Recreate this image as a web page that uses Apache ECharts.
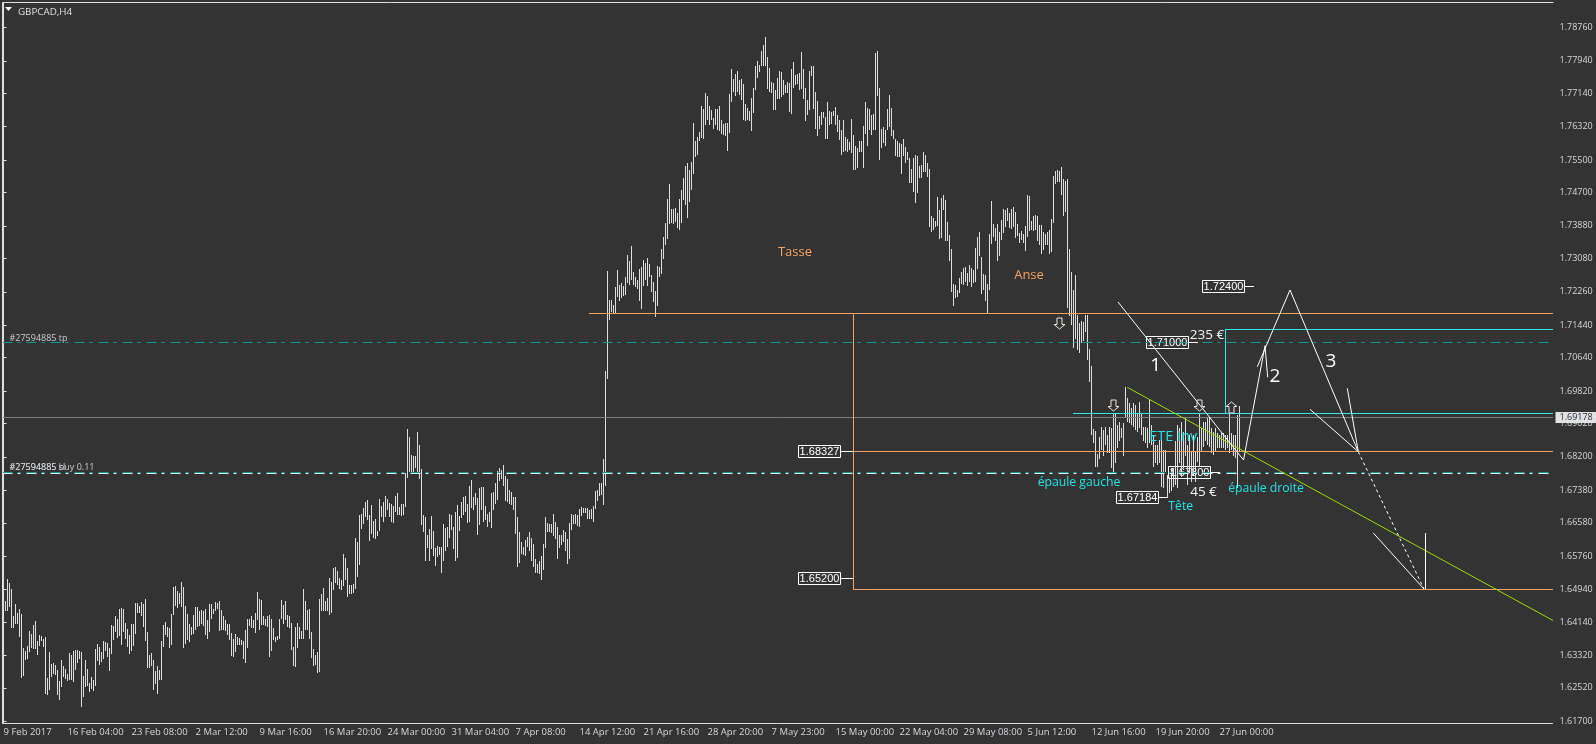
<!DOCTYPE html>
<html><head><meta charset="utf-8">
<style>html,body{margin:0;padding:0;background:#333333;overflow:hidden}#c{width:1596px;height:744px}</style>
<script src="https://cdn.jsdelivr.net/npm/echarts@6/dist/echarts.min.js"></script>
</head><body><div id="c"></div>
<script>
// Bar ranges: flat high,low pairs in units of 0.0001
const barsFebMar=[16483,16445,16466,16442,16519,16442,16509,16451,16495,16400,16428,16400,16458,16409,16437,16410,16446,16378,16433,16277,16351,16282,16342,16320,16355,16323,16392,16341,16384,16351,16406,16347,16416,16347,16367,16333,16382,16355,16379,16368,16372,16353,16377,16237,16275,16234,16339,16246,16310,16279,16314,16286,16307,16283,16296,16235,16269,16223,16320,16253,16306,16278,16298,16273,16287,16269,16337,16271,16332,16271,16342,16267,16344,16296,16344,16314,16342,16324,16340,16205,16281,16230,16320,16255,16298,16256,16263,16242,16278,16250,16271,16245,16347,16256,16360,16319,16353,16308,16340,16316,16367,16323,16364,16342,16362,16328,16349,16294,16406,16335,16404,16369,16428,16390,16421,16375,16446,16379,16448,16358,16446,16390,16411,16373,16396,16353,16382,16335,16409,16343,16409,16355,16460,16385,16460,16437,16454,16435,16463,16429,16458,16402,16470,16367,16389,16301,16332,16301,16337,16305,16320,16247,16293,16261,16306,16237,16296,16271,16367,16271,16406,16353,16413,16382,16402,16378,16399,16351,16433,16357,16500,16431,16502,16453,16490,16448,16485,16458,16512,16451,16500,16351,16453,16361,16433,16369,16409,16364,16401,16382,16431,16384,16451,16394,16451,16402,16441,16404,16443,16409,16441,16404,16446,16382,16419,16372,16458,16389,16458,16421,16445,16433,16463,16441,16460,16446,16465,16392,16443,16394,16428,16394,16419,16392,16409,16382,16409,16369,16387,16330,16372,16328,16384,16340,16377,16357,16374,16357,16369,16357,16367,16323,16394,16313,16421,16351,16421,16404,16428,16400,16419,16398,16435,16387,16487,16419,16470,16394,16468,16406,16428,16406,16421,16404,16428,16402,16431,16328,16421,16342,16399,16369,16377,16364,16379,16369,16421,16372,16468,16421,16455,16410,16465,16419,16431,16402,16428,16398,16411,16345,16352,16305,16401,16304,16411,16350,16401,16373,16392,16371,16495,16371,16465,16394,16443,16394,16446,16371,16389,16325,16347,16305,16332,16308,16340,16288,16470,16292,16483,16441,16497,16441,16465,16442,16473,16441,16522,16431,16512,16435,16547,16492,16549,16509,16539,16505,16522,16495,16517,16492,16581,16502,16571,16517,16547,16476,16505,16483,16505,16483,16507,16486,16620,16496,16610,16524,16677,16554,16679,16642,16694,16655,16709,16673,16714,16665,16677,16614,16701,16630,16662,16620,16667,16618,16638,16625,16716,16638,16699,16673,16709,16660,16724,16673,16716,16689,16706,16672,16704,16660,16699,16657,16724,16684,16731,16677,16697,16677];
const barsMarApr=[16704,16674,16704,16676,16781,16697,16888,16768,16870,16784,16824,16783,16822,16784,16822,16792,16881,16781,16849,16765,16790,16652,16677,16636,16672,16564,16628,16595,16642,16564,16674,16593,16638,16576,16595,16551,16601,16574,16599,16578,16598,16534,16655,16564,16645,16589,16647,16599,16679,16621,16677,16640,16647,16593,16684,16564,16701,16571,16674,16638,16709,16670,16721,16677,16724,16684,16704,16658,16748,16660,16763,16694,16721,16689,16731,16701,16719,16628,16743,16652,16746,16689,16746,16660,16699,16666,16679,16647,16684,16660,16730,16645,16733,16689,16756,16704,16785,16714,16793,16761,16788,16765,16800,16748,16773,16711,16765,16709,16738,16704,16733,16701,16721,16689,16721,16630,16672,16549,16635,16559,16610,16581,16599,16578,16615,16576,16623,16599,16635,16588,16620,16564,16606,16549,16569,16534,16556,16534,16564,16533,16576,16516,16606,16542,16672,16596,16657,16635,16655,16635,16655,16633,16679,16625,16660,16618,16647,16569,16628,16596,16628,16603,16640,16611,16635,16589,16618,16556,16657,16569,16679,16640,16677,16655,16679,16655,16677,16650,16692,16648,16697,16674,16694,16681,16694,16683,16694,16667,16689,16667,16692,16667,16699,16660,16736,16692,16738,16711,16756,16724,16756,16726,16815,16701,17031,16748,17277,17011];
const barsAprMay=[17206,17157,17206,17176,17193,17173,17239,17173,17280,17214,17243,17204,17247,17210,17240,17216,17263,17218,17316,17247,17302,17243,17339,17255,17275,17243,17263,17237,17255,17234,17282,17204,17287,17184,17303,17240,17298,17255,17309,17240,17294,17263,17267,17225,17251,17202,17229,17165,17289,17191,17286,17263,17331,17270,17361,17306,17396,17341,17454,17355,17491,17393,17430,17396,17430,17393,17433,17397,17419,17382,17454,17378,17476,17394,17506,17452,17535,17439,17542,17408,17526,17448,17545,17476,17641,17516,17597,17558,17607,17562,17619,17598,17683,17604,17676,17603,17715,17636,17708,17649,17683,17636,17673,17649,17654,17626,17676,17636,17676,17624,17683,17622,17649,17614,17639,17612,17640,17608,17642,17572,17713,17616,17774,17694,17749,17717,17762,17708,17769,17717,17747,17710,17749,17698,17737,17649,17688,17646,17678,17649,17671,17646,17703,17622,17727,17665,17781,17722,17794,17751,17784,17766,17818,17781,17833,17781,17853,17781,17804,17725,17777,17717,17742,17714,17739,17673,17722,17673,17752,17700,17769,17700,17766,17706,17747,17710,17735,17714,17742,17714,17739,17668,17774,17663,17791,17726,17759,17735,17762,17737,17764,17722,17816,17725,17774,17700,17727,17647,17698,17661,17769,17673,17781,17757,17781,17676,17717,17626,17695,17609,17658,17626,17668,17636,17668,17653,17656,17602,17693,17602,17671,17636,17668,17639,17671,17658,17681,17636,17661,17620,17649,17599,17624,17562,17649,17571,17607,17572,17602,17569,17594,17575,17651,17567,17612,17526,17585,17526,17580,17530,17597,17570,17597,17570,17634,17531,17693,17614,17678,17585,17676,17624,17661,17612,17663,17624,17813,17624,17818,17708,17727,17550,17626,17580,17631,17591,17624,17585,17676,17624,17710,17632,17678,17608,17624,17602,17602,17560,17597,17558,17592,17557,17590,17516,17602,17560,17583,17542,17570,17550,17554,17493,17527,17493,17554,17472,17562,17445,17560,17470,17535,17505,17538,17505,17570,17521,17562,17521,17542,17508,17528,17385];
const barsMayJun=[17413,17372,17407,17378,17401,17385,17459,17388,17426,17357,17457,17359,17464,17427,17452,17352,17398,17352,17366,17302,17331,17226,17245,17192,17243,17211,17231,17214,17260,17222,17275,17245,17285,17243,17287,17251,17272,17240,17292,17251,17285,17239,17280,17247,17334,17249,17361,17282,17373,17313,17311,17221,17270,17231,17267,17204,17245,17173,17368,17231,17450,17344,17393,17360,17383,17351,17393,17302,17373,17314,17403,17354,17430,17370,17427,17385,17432,17400,17419,17382,17430,17381,17435,17386,17422,17358,17393,17363,17370,17347,17376,17354,17368,17345,17388,17327,17464,17362,17462,17376,17400,17378,17413,17376,17415,17378,17413,17351,17390,17341,17390,17319,17373,17329,17368,17341,17374,17341,17378,17319,17405,17325,17511,17395,17523,17491,17526,17496,17523,17495,17533,17464,17504,17413,17499,17423,17504,17186,17331,17167,17275,17144,17231,17088,17267,17110,17169,17083,17149,17076,17154,17099,17152,17106,17169,17127,17169,17058,17085,17004,17044,16874,16889,16853,16884,16794,16827,16796,16869,16816];
const barsJun=[16894,16837,16886,16821,16894,16849,16874,16829,16894,16829,16890,16792,16927,16782,16927,16804,16899,16841,16907,16858,16890,16866,16903,16821,16993,16915,16964,16907,16952,16903,16940,16899,16952,16894,16948,16886,16927,16882,16956,16890,16927,16874,16894,16858,16894,16853,16890,16841,16960,16853,16899,16849,16874,16796,16849,16804,16849,16800,16862,16804,16862,16747,16837,16743,16837,16784,16776,16718,16771,16730,16792,16735,16792,16747,16858,16751,16899,16743,16890,16804,16907,16771,16882,16792,16915,16821,16849,16751,16874,16780,16833,16759,16874,16776,16833,16759,16870,16808,16927,16796,16890,16833,16907,16845,16907,16858,16915,16849,16915,16845,16890,16829,16882,16825,16890,16833,16878,16841,16874,16841,16878,16841,16878,16841,16874,16837,16874,16841,16927,16829,16878,16837,16874,16821,16874,16817,16923,16743,16944,16833];

const priceTicks=[1.7876,1.7794,1.7714,1.7632,1.755,1.747,1.7388,1.7308,1.7226,1.7144,1.7064,1.6982,1.6902,1.682,1.6738,1.6658,1.6576,1.6494,1.6414,1.6332,1.6252,1.617];
const timeLabels=['9 Feb 2017','16 Feb 04:00','23 Feb 08:00','2 Mar 12:00','9 Mar 16:00','16 Mar 20:00','24 Mar 00:00','31 Mar 04:00','7 Apr 08:00','14 Apr 12:00','21 Apr 16:00','28 Apr 20:00','7 May 23:00','15 May 00:00','22 May 04:00','29 May 08:00','5 Jun 12:00','12 Jun 16:00','19 Jun 20:00','27 Jun 00:00'];
const lastPrice=1.69178;

// Chart objects anchored in [bar index, price]
const orangeLines=[[292.75,1.71726,774.75,1.71726],[424.75,1.71726,424.75,1.64938],[424.75,1.68327,774.75,1.68327],[424.75,1.64938,774.75,1.64938]];
const cyanLines=[[534.75,1.69266,774.75,1.69266],[610.75,1.71332,610.75,1.69266],[610.75,1.71332,774.75,1.71332]];
const greenLines=[[561.9,1.69911,774.75,1.64176]];
const bidLine=[[-0.5,lastPrice,774.75,lastPrice]];
const tealDashLines=[[-0.5,1.7101,774.75,1.7101],[-0.5,1.67815,774.75,1.67815]];
const whiteDashLines=[[-0.5,1.67791,774.75,1.67791]];
const whiteLines=[[557.25,1.72009,620,1.68123],[620,1.68123,630.75,1.70934],[626.9,1.70417,643.25,1.72304],[643.25,1.72304,677.4,1.68327],[630.75,1.70934,632.1,1.70157],[671.9,1.69886,677.4,1.68327],[653.25,1.6937,677.4,1.68327],[684.9,1.66327,710.25,1.6495],[710.75,1.66327,710.75,1.6495],
 [620.25,1.724,625.25,1.724],[592.25,1.7101,597.25,1.7101],[577.25,1.6719,582.25,1.6719],[603.25,1.67815,608.25,1.67815],[418.25,1.68327,424.75,1.68327],[418.25,1.652,424.75,1.652]];
const whiteDottedLines=[[677.4,1.68327,710.25,1.6495]];
const priceBoxes=[['1.72400',620.25,1.724],['1.71000',592.25,1.7101],['1.67184',577.25,1.6719],['1.67800',603.25,1.67815],['1.68327',418.25,1.68327],['1.65200',418.25,1.652]];
const orangeTexts=[['Tasse',395.75,1.73238],['Anse',512.75,1.72656]];
const cyanTexts=[['épaule gauche',537.75,1.67565],['épaule droite',631.25,1.67434],['Tête',588.6,1.66967]];
const cyanBigTexts=[['ETE Inv',584.9,1.68696]];
const whiteTexts=[['45 €',600,1.67343],['235 €',601.75,1.71197]];
const numberTexts=[['1',576.1,1.70435],['2',635.75,1.70164],['3',663.75,1.70533]];
const tradeTexts=[['#27594885 tp',3,1.71125],['#27594885 sl',3,1.6793],['#27594885 buy 0.11',3,1.6793]];
const downArrows=[[527.75,1.71492],[554.75,1.69475],[597.75,1.69458]];
const upArrows=[[613.75,1.69426]];

const FONT='"Open Sans"';
const BG='#333333';
const allBars=[].concat(barsFebMar,barsMarApr,barsAprMay,barsMayJun,barsJun);
const barRows=[];
for(let i=0;i<allBars.length;i+=2)barRows.push([i/2,allBars[i]/10000,allBars[i+1]/10000]);
const SLOTS=775;
const categories=[];
for(let i=0;i<SLOTS;i++)categories.push(i%32===0&&timeLabels[i/32]?timeLabels[i/32]:'');

const crisp=v=>Math.round(v-0.5)+0.5;
function lineSeries(rows,color,dash,z){
  return {type:'custom',xAxisIndex:1,yAxisIndex:0,silent:true,z:z||4,encode:{x:[0,2],y:[1,3]},data:rows,clip:false,
    renderItem:(p,api)=>{
      const a=api.coord([api.value(0),api.value(1)]),b=api.coord([api.value(2),api.value(3)]);
      let x1=a[0],y1=a[1],x2=b[0],y2=b[1];
      if(Math.abs(y1-y2)<0.01){y1=y2=crisp(y1);}
      if(Math.abs(x1-x2)<0.01){x1=x2=crisp(x1);}
      return {type:'line',shape:{x1,y1,x2,y2},style:{stroke:color,lineWidth:1,lineDash:dash||null}};
    }};
}
function textSeries(rows,color,size,align){
  return {type:'custom',xAxisIndex:1,yAxisIndex:0,silent:true,z:6,encode:{x:0,y:1},clip:false,data:rows.map(r=>[r[1],r[2]]),
    renderItem:(p,api)=>{
      const c=api.coord([api.value(0),api.value(1)]);
      return {type:'text',x:c[0],y:c[1],style:{text:rows[p.dataIndex][0],fill:color,font:size+'px '+FONT,align:align||'center',verticalAlign:'middle'}};
    }};
}
function arrowSeries(rows,dir){
  const pts=[[-2.5,-5.5],[2.5,-5.5],[2.5,1],[5.5,1],[0,5.5],[-5.5,1],[-2.5,1]];
  return {type:'custom',xAxisIndex:1,yAxisIndex:0,silent:true,z:5,encode:{x:0,y:1},clip:false,data:rows,
    renderItem:(p,api)=>{
      const c=api.coord([api.value(0),api.value(1)]);
      return {type:'polygon',shape:{points:pts.map(q=>[crisp(c[0])+q[0],crisp(c[1])+q[1]*dir])},style:{fill:null,stroke:'#eee6dc',lineWidth:1}};
    }};
}
const boxSeries={type:'custom',xAxisIndex:1,yAxisIndex:0,silent:true,z:1,encode:{x:0,y:1},clip:false,data:priceBoxes.map(r=>[r[1],r[2]]),
  renderItem:(p,api)=>{
    const c=api.coord([api.value(0),api.value(1)]),xr=crisp(c[0]),yc=crisp(c[1]);
    return {type:'group',children:[
      {type:'rect',shape:{x:xr-42,y:yc-6,width:42,height:12},style:{fill:BG,stroke:'#ffffff',lineWidth:1}},
      {type:'text',x:xr-21,y:yc,style:{text:priceBoxes[p.dataIndex][0],fill:'#ffffff',font:'11px "Liberation Sans"',align:'center',verticalAlign:'middle'}}
    ]};
  }};
const tagSeries={type:'custom',xAxisIndex:1,yAxisIndex:0,silent:true,z:7,encode:{x:0,y:1},clip:false,data:[[774.75,lastPrice]],
  renderItem:(p,api)=>{
    const c=api.coord([api.value(0),api.value(1)]),x=crisp(c[0])+2,y=crisp(c[1]);
    return {type:'group',children:[
      {type:'rect',shape:{x:x,y:y-5.5,width:41,height:11},style:{fill:'#e2e2e2'}},
      {type:'text',x:x+4,y:y,style:{text:lastPrice.toFixed(5),fill:'#1c2a3a',font:'9px '+FONT,align:'left',verticalAlign:'middle'}}
    ]};
  }};
const barSeries={type:'custom',name:'GBPCAD,H4',xAxisIndex:0,yAxisIndex:0,z:2,silent:true,encode:{x:0,y:[1,2]},data:barRows,
  renderItem:(p,api)=>{
    const h=api.coord([api.value(0),api.value(1)]),l=api.coord([api.value(0),api.value(2)]);
    const x=crisp(h[0]);
    return {type:'line',shape:{x1:x,y1:Math.round(h[1]),x2:x,y2:Math.round(l[1])},style:{stroke:'#dedede',lineWidth:1}};
  }};

const option={
  animation:false,backgroundColor:BG,
  title:{text:'GBPCAD,H4',left:13,top:2,textStyle:{color:'#e0e0e0',fontFamily:FONT,fontSize:9.8,fontWeight:'normal'}},
  grid:{left:2.5,top:2.5,width:1550,height:721,containLabel:false},
  xAxis:[
    {type:'category',data:categories,position:'bottom',boundaryGap:true,
     axisLine:{lineStyle:{color:'#dedede'}},
     axisTick:{alignWithLabel:true,length:3,interval:(i,v)=>v!=='',lineStyle:{color:'#dedede'}},
     axisLabel:{interval:(i,v)=>v!=='',align:'left',margin:4,color:'#d4d8dc',fontFamily:FONT,fontSize:9.5},
     splitLine:{show:false}},
    {type:'value',min:-0.5,max:774.5,show:false,splitLine:{show:false}}
  ],
  yAxis:[{type:'value',position:'right',offset:1,min:1.61643,max:1.79375,
    axisLine:{show:true,lineStyle:{color:'#dedede'}},
    axisTick:{show:true,length:3,customValues:priceTicks,lineStyle:{color:'#dedede'}},
    axisLabel:{margin:6,color:'#d4d8dc',fontFamily:FONT,fontSize:9,customValues:priceTicks,formatter:v=>Number(v).toFixed(5)},
    splitLine:{show:false}}],
  graphic:[
    {type:'polyline',silent:true,z:10,shape:{points:[[2.5,723.5],[2.5,2.5],[1553.5,2.5]]},style:{stroke:'#dedede',fill:null,lineWidth:1}},
    {type:'polygon',silent:true,z:10,shape:{points:[[5,7],[12,7],[8.5,11]]},style:{fill:'#ffffff'}}
  ],
  series:[
    boxSeries,
    barSeries,
    lineSeries(bidLine,'#7d7d7d',null,3),
    lineSeries(tealDashLines,'#0e9a9a',[10,5,3,6],3),
    lineSeries(whiteDashLines,'#f0f0f0',[10,5,3,6],3),
    lineSeries(orangeLines,'#f4a460'),
    lineSeries(cyanLines,'#30e6e6'),
    lineSeries(greenLines,'#9ae000'),
    lineSeries(whiteLines,'#ffffff'),
    lineSeries(whiteDottedLines,'#ffffff',[3,3]),
    arrowSeries(downArrows,1),
    arrowSeries(upArrows,-1),
    textSeries(orangeTexts,'#f4a460',13),
    textSeries(cyanTexts,'#1fe6ea',12.2),
    textSeries(cyanBigTexts,'#1fe6ea',14.5),
    textSeries(whiteTexts,'#f4f4f4',13.5),
    textSeries(numberTexts,'#ffffff',19),
    textSeries(tradeTexts,'#c8ccd0',9,'left'),
    tagSeries
  ]
};
echarts.init(document.getElementById('c'),null,{renderer:'canvas'}).setOption(option);
</script></body></html>
